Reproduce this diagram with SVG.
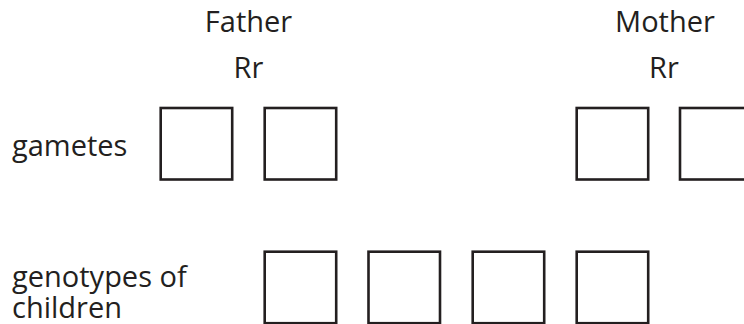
<svg xmlns="http://www.w3.org/2000/svg" width="744" height="324" viewBox="0 0 744 324">
<style>
.t{font-family:"Open Sans","Noto Sans","Liberation Sans",sans-serif;font-size:29px;fill:#231f20}
.m{text-anchor:middle}
.b{fill:#fff;stroke:#231f20;stroke-width:2.6}
</style>
<rect width="744" height="324" fill="#fff"/>
<g id="father">
<text class="t m" x="248.5" y="32">Father</text>
<text class="t m" x="248.5" y="78">Rr</text>
</g>
<g id="mother">
<text class="t m" x="665" y="32">Mother</text>
<text class="t m" x="664" y="78">Rr</text>
</g>
<g id="gametes-label"><text class="t" x="12" y="156">gametes</text></g>
<g id="children-label">
<text class="t" x="12" y="287">genotypes of</text>
<text class="t" x="12" y="318">children</text>
</g>
<g id="gamete-f1"><rect class="b" x="160.7" y="108" width="71.5" height="71.5"/></g>
<g id="gamete-f2"><rect class="b" x="264.7" y="108" width="71.5" height="71.5"/></g>
<g id="gamete-m1"><rect class="b" x="576.7" y="108" width="71.5" height="71.5"/></g>
<g id="gamete-m2"><rect class="b" x="680" y="108" width="71.5" height="71.5"/></g>
<g id="child1"><rect class="b" x="264.7" y="251.7" width="71.5" height="71.5"/></g>
<g id="child2"><rect class="b" x="368.5" y="251.7" width="71.5" height="71.5"/></g>
<g id="child3"><rect class="b" x="472.7" y="251.7" width="71.5" height="71.5"/></g>
<g id="child4"><rect class="b" x="576.7" y="251.7" width="71.5" height="71.5"/></g>
<g id="connectors"/>
</svg>
